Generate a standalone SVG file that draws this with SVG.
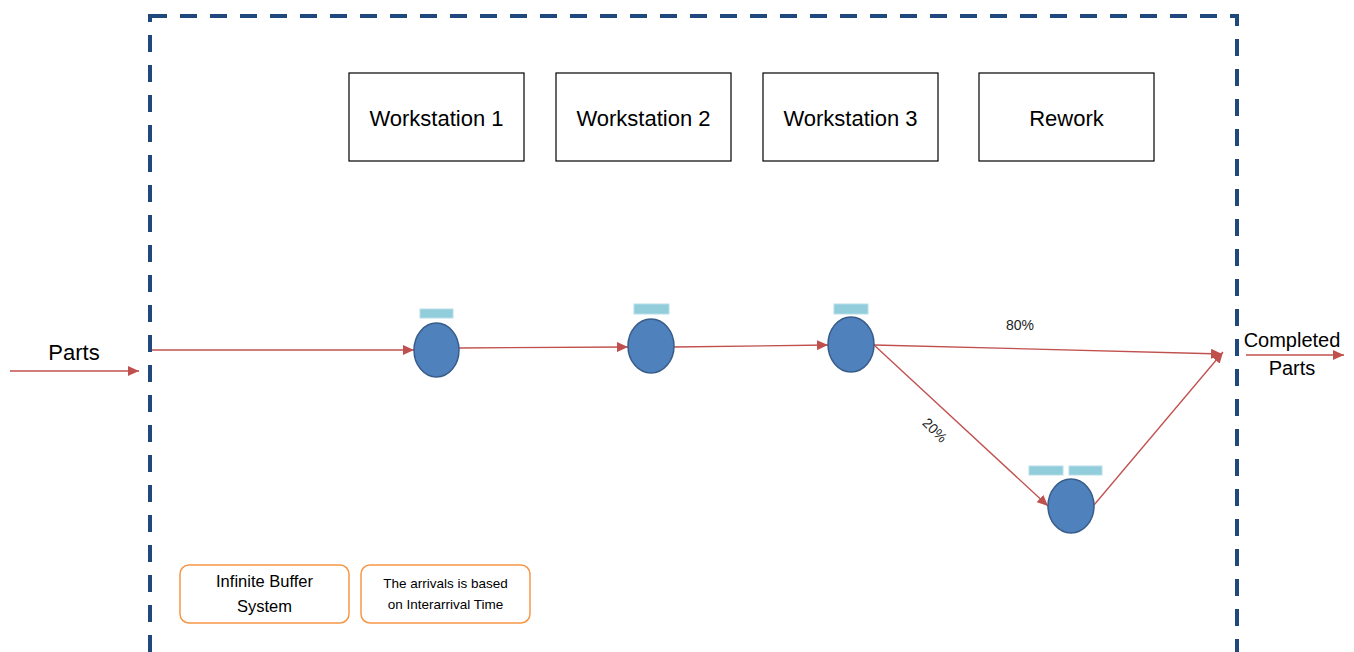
<svg xmlns="http://www.w3.org/2000/svg" width="1354" height="652" viewBox="0 0 1354 652">
  <style>
    .frame { fill: none; stroke: #1F497D; stroke-width: 4; stroke-dasharray: 17 13; }
    .box { fill: #FFFFFF; stroke: #000000; stroke-width: 1.2; }
    .boxtext { font-family: "Liberation Sans", Arial, sans-serif; font-size: 22px; fill: #000000; text-anchor: middle; }
    .server { fill: #4F81BD; stroke: #385D8A; stroke-width: 1.5; }
    .queue { fill: #92CDDC; stroke: #B7DEE8; stroke-width: 1; }
    .flow { fill: none; stroke: #C0504D; stroke-width: 1.3; marker-end: url(#arrow); }
    .label { font-family: "Liberation Sans", Arial, sans-serif; fill: #000000; text-anchor: middle; }
    .note { fill: #FFFFFF; stroke: #F79646; stroke-width: 1.5; }
    .pct { font-family: "Liberation Sans", Arial, sans-serif; font-size: 14px; fill: #222222; text-anchor: middle; }
  </style>
  <defs>
    <marker id="arrow" markerUnits="userSpaceOnUse" markerWidth="12" markerHeight="10" refX="11" refY="5" orient="auto">
      <path d="M0,0 L11,5 L0,10 Z" fill="#C0504D"/>
    </marker>
  </defs>

  <rect width="1354" height="652" fill="#FFFFFF"/>

  <!-- system boundary -->
  <rect class="frame" x="150" y="16" width="1087" height="641"/>

  <!-- station labels -->
  <g id="ws1-box"><rect class="box" x="349" y="73" width="175" height="88"/><text class="boxtext" x="436.5" y="126">Workstation 1</text></g>
  <g id="ws2-box"><rect class="box" x="556" y="73" width="175" height="88"/><text class="boxtext" x="643.5" y="126">Workstation 2</text></g>
  <g id="ws3-box"><rect class="box" x="763" y="73" width="175" height="88"/><text class="boxtext" x="850.5" y="126">Workstation 3</text></g>
  <g id="rework-box"><rect class="box" x="979" y="73" width="175" height="88"/><text class="boxtext" x="1066.5" y="126">Rework</text></g>

  <!-- connectors -->
  <g id="connectors">
    <line class="flow" x1="10" y1="371" x2="139" y2="371"/>
    <line class="flow" x1="152" y1="350" x2="414" y2="350"/>
    <line class="flow" x1="459" y1="348" x2="628" y2="347"/>
    <line class="flow" x1="674" y1="347" x2="828" y2="345"/>
    <line class="flow" x1="874" y1="345" x2="1222" y2="354"/>
    <line class="flow" x1="874" y1="345" x2="1048" y2="506"/>
    <line class="flow" x1="1094" y1="505" x2="1223" y2="352"/>
    <line class="flow" x1="1246" y1="355" x2="1344" y2="355"/>
    <text class="pct" x="1020" y="330">80%</text>
    <text class="pct" x="935" y="435" transform="rotate(45 935 430)">20%</text>
  </g>

  <!-- servers with their queues -->
  <g id="ws1">
    <rect class="queue" x="420" y="309" width="33" height="9"/>
    <ellipse class="server" cx="436.5" cy="350" rx="22.5" ry="27"/>
  </g>
  <g id="ws2">
    <rect class="queue" x="634" y="304" width="35" height="10"/>
    <ellipse class="server" cx="651" cy="346" rx="23" ry="27"/>
  </g>
  <g id="ws3">
    <rect class="queue" x="834" y="304" width="34" height="10"/>
    <ellipse class="server" cx="851" cy="344.5" rx="23" ry="27.5"/>
  </g>
  <g id="rework">
    <rect class="queue" x="1029" y="466" width="34" height="9"/>
    <rect class="queue" x="1069" y="466" width="33" height="9"/>
    <ellipse class="server" cx="1071" cy="506" rx="23" ry="27"/>
  </g>

  <!-- flow endpoints -->
  <g id="parts-in"><text class="label" x="74" y="360" font-size="22">Parts</text></g>
  <g id="parts-out">
    <text class="label" x="1292" y="347" font-size="20">Completed</text>
    <text class="label" x="1292" y="375" font-size="20">Parts</text>
  </g>

  <!-- notes -->
  <g id="note-buffer">
    <rect class="note" x="180" y="565" width="169" height="58" rx="9"/>
    <text class="label" x="264.5" y="587" font-size="16.5">Infinite Buffer</text>
    <text class="label" x="264.5" y="612" font-size="16.5">System</text>
  </g>
  <g id="note-arrivals">
    <rect class="note" x="361" y="565" width="169" height="58" rx="9"/>
    <text class="label" x="445.5" y="588" font-size="13.5">The arrivals is based</text>
    <text class="label" x="445.5" y="609" font-size="13.5">on Interarrival Time</text>
  </g>
</svg>
